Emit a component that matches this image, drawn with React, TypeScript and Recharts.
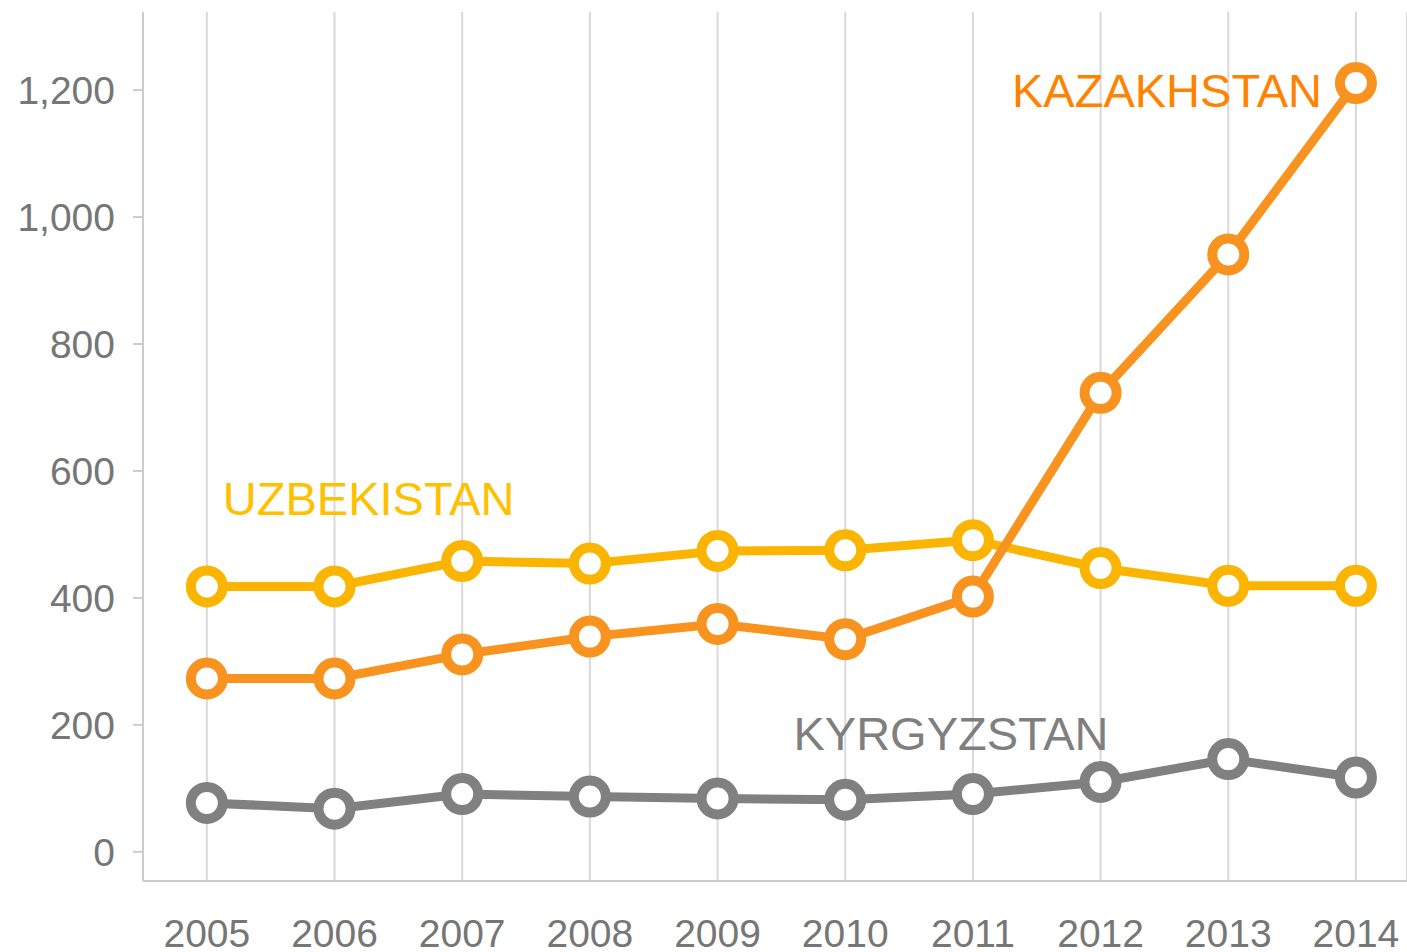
import { CartesianGrid, LabelList, Line, LineChart, XAxis, YAxis } from "recharts";

// Literal colours.
const KAZ = "#f7931e";
const UZB = "#fbb400";
const KGZ = "#808080";
const GRID = "#d9d9d9";
const AXIS = "#cccccc";
const TICK = "#767676";
const FONT = "'Liberation Sans', Arial, sans-serif";

const YEARS = [2005, 2006, 2007, 2008, 2009, 2010, 2011, 2012, 2013, 2014];
const KAZAKHSTAN = [273, 273, 311, 339, 359, 335, 402, 723, 941, 1211];
const UZBEKISTAN = [418, 418, 458, 454, 474, 475, 491, 447, 419, 419];
const KYRGYZSTAN = [77, 68, 91, 87, 84, 82, 91, 110, 146, 117];
const Y_TICKS = [0, 200, 400, 600, 800, 1000, 1200];

const rows = YEARS.map((year, i) => ({
  year,
  kaz: KAZAKHSTAN[i],
  uzb: UZBEKISTAN[i],
  kgz: KYRGYZSTAN[i],
}));

type LabelSpec = {
  text: string;
  index: number;
  dx: number;
  dy: number;
  anchor: "start" | "end";
  color: string;
};

// Series name drawn next to one chosen point of its line.
function seriesLabel(spec: LabelSpec) {
  return function SeriesLabel(props: any) {
    if (props.index !== spec.index) return null;
    return (
      <text
        x={Number(props.x) + spec.dx}
        y={Number(props.y) + spec.dy}
        textAnchor={spec.anchor}
        fill={spec.color}
        fontSize={47}
        fontFamily={FONT}
      >
        {spec.text}
      </text>
    );
  };
}

function ringDot(color: string) {
  return { r: 16, stroke: color, strokeWidth: 10, fill: "#ffffff" };
}

export default function App() {
  return (
    <div style={{ position: "absolute", left: 0, top: 0 }}>
      <LineChart
        width={1407}
        height={952}
        data={rows}
        margin={{ top: 12, right: 0, bottom: 0, left: 0 }}
      >
        <CartesianGrid horizontal={false} stroke={GRID} strokeWidth={2} />
        <XAxis
          dataKey="year"
          type="number"
          domain={[2004.5, 2014.4]}
          ticks={YEARS}
          allowDataOverflow
          height={71}
          tickLine={false}
          tickSize={10}
          tickMargin={28}
          axisLine={{ stroke: AXIS, strokeWidth: 2 }}
          tick={{ fontSize: 39, fill: TICK, fontFamily: FONT }}
        />
        <YAxis
          type="number"
          domain={[-46, 1323]}
          ticks={Y_TICKS}
          allowDataOverflow
          width={143}
          tickSize={10}
          tickMargin={18}
          tickLine={{ stroke: AXIS, strokeWidth: 2 }}
          axisLine={{ stroke: AXIS, strokeWidth: 2 }}
          tick={{ fontSize: 39, fill: TICK, fontFamily: FONT }}
          tickFormatter={(v: number) => v.toLocaleString("en-US")}
        />
        <Line
          dataKey="uzb"
          stroke={UZB}
          strokeWidth={9}
          dot={ringDot(UZB)}
          activeDot={false}
          isAnimationActive={false}
        >
          <LabelList
            dataKey="uzb"
            content={seriesLabel({ text: "UZBEKISTAN", index: 0, dx: 16, dy: -71, anchor: "start", color: "#ffc000" })}
          />
        </Line>
        <Line
          dataKey="kaz"
          stroke={KAZ}
          strokeWidth={9}
          dot={ringDot(KAZ)}
          activeDot={false}
          isAnimationActive={false}
        >
          <LabelList
            dataKey="kaz"
            content={seriesLabel({ text: "KAZAKHSTAN", index: 9, dx: -34, dy: 24, anchor: "end", color: "#ff8200" })}
          />
        </Line>
        <Line
          dataKey="kgz"
          stroke={KGZ}
          strokeWidth={9}
          dot={ringDot(KGZ)}
          activeDot={false}
          isAnimationActive={false}
        >
          <LabelList
            dataKey="kgz"
            content={seriesLabel({ text: "KYRGYZSTAN", index: 7, dx: 8, dy: -32, anchor: "end", color: "#7f7f7f" })}
          />
        </Line>
      </LineChart>
    </div>
  );
}
